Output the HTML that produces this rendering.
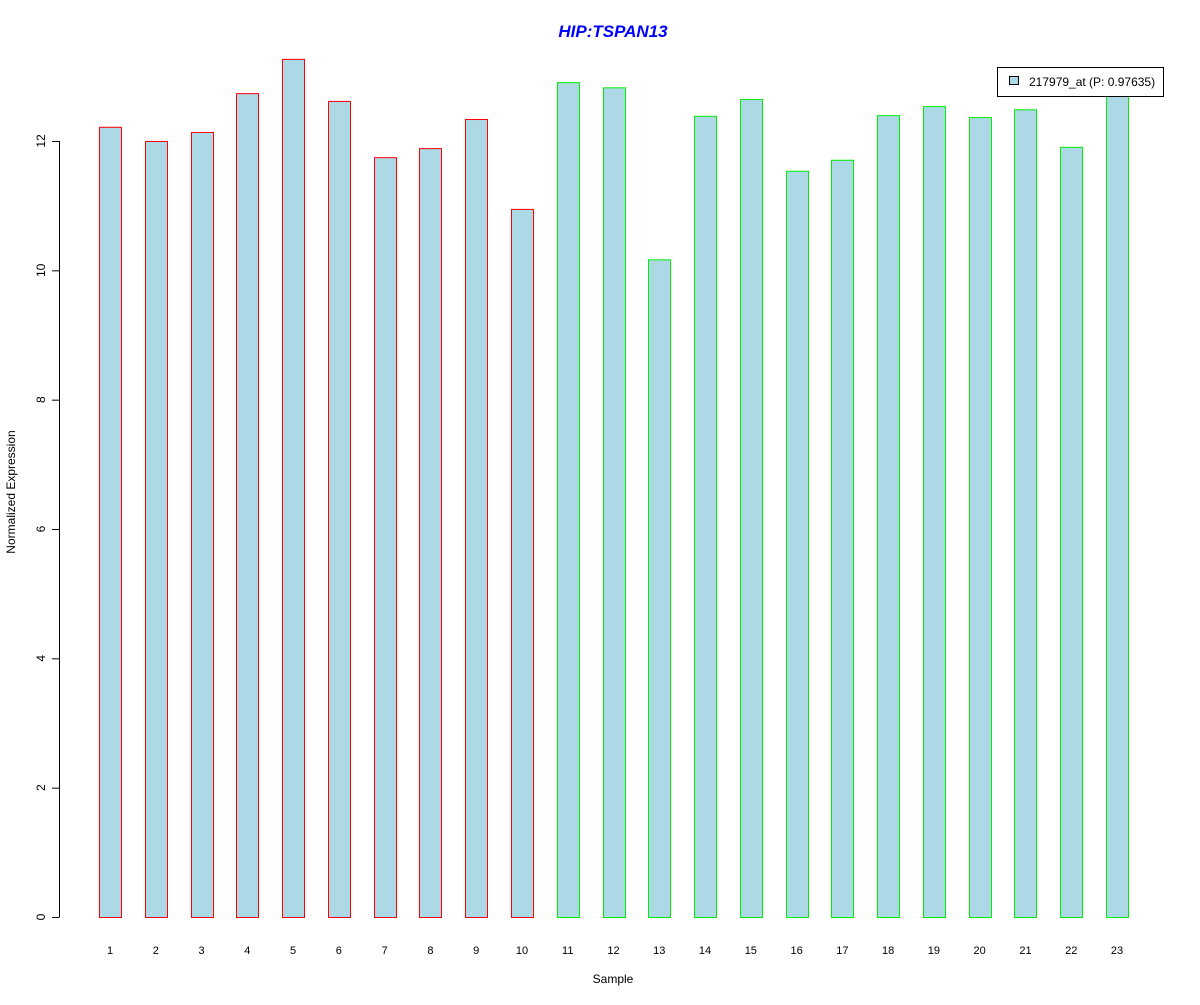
<!DOCTYPE html>
<html><head><meta charset="utf-8"><style>
body{margin:0;background:#fff}
svg text{font-family:"Liberation Sans",Arial,sans-serif}
</style></head><body>
<svg id="chart" width="1200" height="1000" viewBox="0 0 1200 1000">
<rect width="1200" height="1000" fill="#fff"/>
<text x="613" y="37" text-anchor="middle" font-size="17" font-weight="bold" font-style="italic" fill="#0000ff">HIP:TSPAN13</text>
<text x="613" y="983" text-anchor="middle" font-size="12">Sample</text>
<text transform="translate(15,492) rotate(-90)" text-anchor="middle" font-size="12">Normalized Expression</text>
<g id="yaxis"></g>
<g id="bars"></g>
<g id="xlabels"></g>
<g>
<rect x="997.5" y="67.5" width="166" height="29" fill="#fff" stroke="#000"/>
<rect x="1009.5" y="76.5" width="9" height="8" fill="#add8e6" stroke="#000"/>
<text x="1029" y="86" font-size="12">217979_at (P: 0.97635)</text>
</g>
</svg>
<script>
const categories=["1","2","3","4","5","6","7","8","9","10","11","12","13","14","15","16","17","18","19","20","21","22","23"];
const values=[12.22,12.0,12.14,12.74,13.27,12.62,11.75,11.89,12.34,10.95,12.91,12.83,10.17,12.39,12.65,11.54,11.71,12.40,12.54,12.37,12.49,11.91,12.78];
const groups=["a","a","a","a","a","a","a","a","a","a","b","b","b","b","b","b","b","b","b","b","b","b","b"];
const yTicks=[0,2,4,6,8,10,12];
const NS="http://www.w3.org/2000/svg";
const y=v=>917-v*(776/12);
const x=i=>110+i*((1117-110)/22);
const bw=22;
const yg=document.getElementById('yaxis');
function mk(tag,attrs,parent){const e=document.createElementNS(NS,tag);for(const k in attrs)e.setAttribute(k,attrs[k]);parent.appendChild(e);return e;}
mk('line',{x1:59.5,x2:59.5,y1:y(0),y2:y(12),stroke:'#000'},yg);
yTicks.forEach(t=>{
  mk('line',{x1:52,x2:59.5,y1:y(t)+0.5,y2:y(t)+0.5,stroke:'#000'},yg);
  const tx=mk('text',{transform:`translate(45,${y(t)}) rotate(-90)`,'text-anchor':'middle','font-size':12},yg);
  
  
  tx.textContent=t;
});
const bg=document.getElementById('bars'),xg=document.getElementById('xlabels');
values.forEach((v,i)=>{
  const r=mk('rect',{x:Math.round(x(i)-bw/2)+0.5,y:y(v)+0.5,width:bw,height:y(0)-y(v),fill:'#add8e6',stroke:groups[i]==='a'?'#ff0000':'#00ee00'},bg);
  
  
  const t=mk('text',{x:x(i),y:954,'text-anchor':'middle','font-size':11},xg);
  
  
  t.textContent=categories[i];
});
</script>
</body></html>
